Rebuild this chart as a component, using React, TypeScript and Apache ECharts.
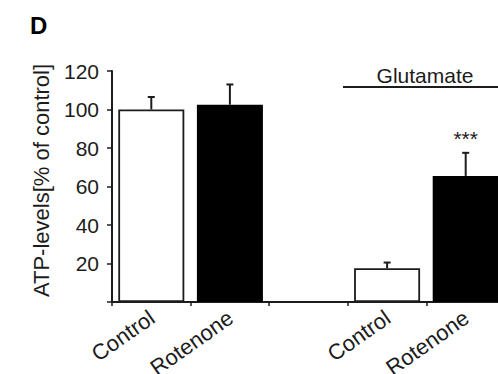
import React, { useEffect, useRef } from "react";
import * as echarts from "echarts";

const categories = ["Control", "Rotenone", "", "Control", "Rotenone"];
const means: (number | null)[] = [100, 102.5, null, 17.5, 65.5];
const upperErrors: (number | null)[] = [106.5, 113, null, 20.5, 77.5];
const significance = ["", "", "", "", "***"];
const yTickMin = 0;
const yTickMax = 120;
const yTickStep = 20;

const FONT = "'Liberation Sans', Arial, Helvetica, sans-serif";
const INK = "#1c1c1c";

export default function App() {
  const ref = useRef<HTMLDivElement>(null);
  useEffect(() => {
    if (!ref.current) return;
    const chart = echarts.init(ref.current, null, { renderer: "svg" });

    const barData = means.map((v, i) => {
      if (v === null) return { value: null };
      const dark = categories[i] === "Rotenone";
      return {
        value: v,
        itemStyle: dark
          ? { color: "#000", borderColor: "#000", borderWidth: 1.5 }
          : { color: "#fff", borderColor: INK, borderWidth: 1.8 },
      };
    });

    const errData = means
      .map((v, i) => (v === null ? null : [i, v, upperErrors[i], significance[i]]))
      .filter((d) => d !== null);

    chart.setOption({
      animation: false,
      backgroundColor: "#fff",
      textStyle: { fontFamily: FONT },
      grid: {
        left: 112,
        top: 71,
        bottom: 72,
        right: 0,
        containLabel: false,
        outerBoundsMode: "none",
      },
      xAxis: {
        type: "category",
        data: categories,
        axisLine: { show: true, lineStyle: { color: INK, width: 2 } },
        axisTick: { show: true, length: 4, lineStyle: { color: INK, width: 1.5 } },
        axisLabel: {
          rotate: 35,
          margin: 14,
          fontSize: 22,
          color: INK,
          fontFamily: FONT,
          interval: 0,
          padding: [0, -1, 0, 0],
        },
        splitLine: { show: false },
      },
      yAxis: {
        type: "value",
        min: yTickMin,
        max: yTickMax,
        interval: yTickStep,
        name: "ATP-levels[% of control]",
        nameLocation: "middle",
        nameGap: 60,
        nameTextStyle: { fontSize: 22, color: INK, fontFamily: FONT, padding: [0, 0, 0, 12] },
        axisLine: { show: true, lineStyle: { color: INK, width: 2 } },
        axisTick: { show: true, length: 5, lineStyle: { color: INK, width: 1.5 } },
        axisLabel: {
          fontSize: 21,
          color: INK,
          fontFamily: FONT,
          margin: 13,
          formatter: (v: number) => (v === 0 ? "" : String(v)),
        },
        splitLine: { show: false },
      },
      series: [
        {
          type: "bar",
          data: barData,
          barWidth: 66,
          z: 2,
        },
        {
          type: "custom",
          data: errData,
          z: 3,
          renderItem: (params: any, api: any) => {
            const idx = api.value(0);
            const top = api.coord([idx, api.value(1)]);
            const up = api.coord([idx, api.value(2)]);
            const sig = api.value(3);
            const children: any[] = [
              {
                type: "line",
                shape: { x1: top[0], y1: top[1], x2: up[0], y2: up[1] },
                style: { stroke: INK, lineWidth: 2 },
              },
              {
                type: "line",
                shape: { x1: up[0] - 3.5, y1: up[1], x2: up[0] + 3.5, y2: up[1] },
                style: { stroke: INK, lineWidth: 2 },
              },
            ];
            if (sig) {
              children.push({
                type: "text",
                x: up[0],
                y: up[1] - 14,
                style: {
                  text: sig,
                  align: "center",
                  verticalAlign: "middle",
                  fontSize: 21,
                  fontFamily: FONT,
                  fill: INK,
                },
              });
            }
            return { type: "group", children };
          },
        },
      ],
      graphic: [
        {
          type: "text",
          left: 30,
          top: 13,
          style: { text: "D", fontSize: 24, fontWeight: "bold", fontFamily: FONT, fill: "#000" },
        },
        {
          type: "line",
          shape: { x1: 343, y1: 87, x2: 510, y2: 87 },
          style: { stroke: INK, lineWidth: 2 },
        },
        {
          type: "text",
          x: 425,
          y: 75,
          style: {
            text: "Glutamate",
            align: "center",
            verticalAlign: "middle",
            fontSize: 21,
            fontFamily: FONT,
            fill: INK,
          },
        },
      ],
    });
    return () => chart.dispose();
  }, []);
  return (
    <div
      style={{
        width: 498,
        height: 374,
        position: "absolute",
        left: 0,
        top: 0,
        overflow: "hidden",
      }}
    >
      <div ref={ref} style={{ width: 505, height: 374 }} />
    </div>
  );
}
